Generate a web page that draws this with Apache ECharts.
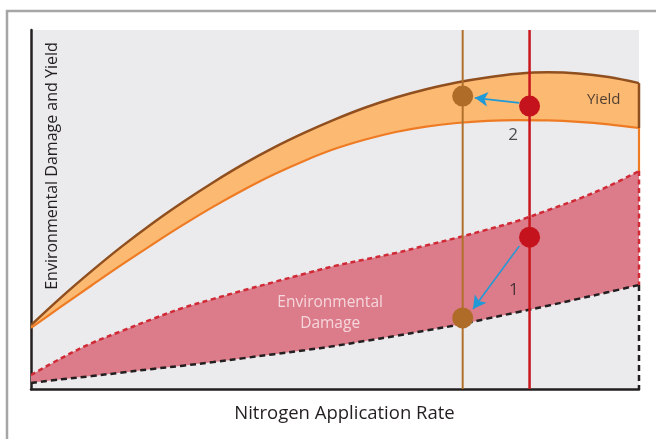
<!DOCTYPE html>
<html>
<head>
<meta charset="utf-8">
<script src="https://cdn.jsdelivr.net/npm/echarts@6/dist/echarts.min.js"></script>
<style>
html,body{margin:0;padding:0;background:#fff;overflow:hidden;}
#chart{width:656px;height:439px;}
</style>
</head>
<body>
<div id="chart"></div>
<script>
// Nitrogen application rate (relative, 0-100)
const rate = [0, 5, 10, 15, 20, 25, 30, 35, 40, 45, 50, 55, 60, 65, 70, 75, 80, 85, 90, 95, 100];
// Yield band
const yieldUpper = [17.8, 25.6, 32.9, 39.8, 46.2, 52.1, 57.6, 62.7, 67.3, 71.4, 75.1, 78.4, 81.2, 83.5, 85.4, 86.8, 87.8, 88.2, 87.9, 86.9, 85.2];
const yieldLower = [17.0, 23.0, 28.9, 34.7, 40.3, 45.7, 50.8, 55.5, 59.8, 63.6, 66.9, 69.5, 71.6, 73.1, 74.1, 74.7, 74.9, 74.8, 74.4, 73.7, 72.7];
// Environmental damage band
const damageUpper = [3.9, 8.6, 12.8, 16.2, 19.5, 22.6, 25.1, 27.5, 29.8, 32.1, 34.3, 36.1, 37.9, 40.0, 42.1, 44.4, 46.8, 49.8, 52.9, 56.5, 60.7];
const damageLower = [1.7, 2.7, 3.6, 4.6, 5.6, 6.5, 7.5, 8.6, 9.7, 10.8, 12.0, 13.4, 14.8, 16.3, 17.8, 19.6, 21.4, 23.2, 25.1, 27.0, 29.0];
// Application-rate markers (optimal / current)
const markerRates = [71, 82];
// Points on the curves
const brownPoints = [[71, 81.6], [71, 19.8]];
const redPoints = [[82, 78.8], [82, 42.3]];
// Arrows (from, to)
const arrows = [
  [[80.3, 79.7], [73.0, 81.1]],
  [[80.3, 39.8], [72.7, 22.3]]
];
// Annotations
const notes = [
  {name: 'Yield', value: [94.2, 80.5], color: '#231f20', size: 15},
  {name: '2', value: [79.3, 70.8], color: '#231f20', size: 17},
  {name: '1', value: [79.4, 27.6], color: '#231f20', size: 17},
  {name: 'Environmental\nDamage', value: [49.2, 21.2], color: '#fbeef1', size: 15.5}
];

const diffs = (a, b) => a.map((v, i) => +(v - b[i]).toFixed(2));
const last = (arr) => arr[arr.length - 1];
const xMax = last(rate);
const FONT = '"Open Sans", "Noto Sans", sans-serif';
const SM = 0.35;

const chart = echarts.init(document.getElementById('chart'), null, {renderer: 'canvas'});
chart.setOption({
  animation: false,
  backgroundColor: '#ffffff',
  grid: {left: 31, right: 17, top: 30, bottom: 50, show: true, backgroundColor: '#ebebee', borderWidth: 0},
  xAxis: [
    {type: 'category', data: rate, boundaryGap: false, show: false},
    {
      type: 'value', min: 0, max: 100, position: 'bottom',
      axisLine: {show: true, onZero: false, lineStyle: {color: '#231f20', width: 2.5}},
      axisTick: {show: false}, axisLabel: {show: false}, splitLine: {show: false},
      name: 'Nitrogen Application Rate', nameLocation: 'middle', nameGap: 15,
      nameTextStyle: {fontFamily: FONT, fontSize: 18.5, color: '#231f20', padding: [0, 0, 0, 19]}
    }
  ],
  yAxis: {
    type: 'value', min: 0, max: 100,
    axisLine: {show: true, onZero: false, lineStyle: {color: '#231f20', width: 2.5}},
    axisTick: {show: false}, axisLabel: {show: false}, splitLine: {show: false}
  },
  graphic: [
    {type: 'polyline', silent: true, shape: {points: [[7, 445], [7, 11], [660, 11]]},
     style: {fill: 'none', stroke: '#a6a6a6', lineWidth: 2.5}},
    {type: 'text', silent: true, x: 52, y: 166, rotation: Math.PI / 2,
     style: {text: 'Environmental Damage and Yield', fontFamily: FONT, fontSize: 16,
             fill: '#231f20', align: 'center', verticalAlign: 'middle'}}
  ],
  series: [
    // Environmental damage band
    {type: 'line', name: 'damageLower', stack: 'env', xAxisIndex: 0, data: damageLower, smooth: SM,
     showSymbol: false, z: 4, lineStyle: {color: '#231f20', width: 2.5, type: [6, 4]}},
    {type: 'line', name: 'damageUpper', stack: 'env', xAxisIndex: 0, data: diffs(damageUpper, damageLower), smooth: SM,
     showSymbol: false, z: 3, lineStyle: {color: '#cf2a36', width: 2.5, type: [5, 3.5]},
     areaStyle: {color: '#dc7b89', opacity: 1}},
    // Yield band
    {type: 'line', name: 'yieldLower', stack: 'yield', xAxisIndex: 0, data: yieldLower, smooth: SM,
     showSymbol: false, z: 4, lineStyle: {color: '#ee7b23', width: 2.2}},
    {type: 'line', name: 'yieldUpper', stack: 'yield', xAxisIndex: 0, data: diffs(yieldUpper, yieldLower), smooth: SM,
     showSymbol: false, z: 3, lineStyle: {color: '#8f4f1e', width: 2.5},
     areaStyle: {color: '#fcb972', opacity: 1}},
    // Right-edge closing segments
    {type: 'line', xAxisIndex: 1, clip: false, showSymbol: false, z: 5, data: [[xMax, last(yieldUpper)], [xMax, last(yieldLower)]],
     lineStyle: {color: '#8f4f1e', width: 2.5}},
    {type: 'line', xAxisIndex: 1, clip: false, showSymbol: false, z: 5, data: [[xMax, last(yieldLower)], [xMax, last(damageUpper)]],
     lineStyle: {color: '#ee7b23', width: 2.2}},
    {type: 'line', xAxisIndex: 1, clip: false, showSymbol: false, z: 5, data: [[xMax, last(damageUpper)], [xMax, last(damageLower)]],
     lineStyle: {color: '#cf2a36', width: 2.5, type: [5, 3.5]}},
    {type: 'line', xAxisIndex: 1, clip: false, showSymbol: false, z: 5, data: [[xMax, last(damageLower)], [xMax, 0]],
     lineStyle: {color: '#231f20', width: 2.5, type: [6, 4]}},
    // Marker verticals
    {type: 'line', xAxisIndex: 1, showSymbol: false, z: 6, data: [[markerRates[0], 0], [markerRates[0], 100]],
     lineStyle: {color: '#b0702c', width: 2}},
    {type: 'line', xAxisIndex: 1, showSymbol: false, z: 6, data: [[markerRates[1], 0], [markerRates[1], 100]],
     lineStyle: {color: '#c8161d', width: 2.5}},
    // Dots
    {type: 'scatter', xAxisIndex: 1, z: 8, symbolSize: 21, data: brownPoints, itemStyle: {color: '#ae6c28', opacity: 1}},
    {type: 'scatter', xAxisIndex: 1, z: 8, symbolSize: 21, data: redPoints, itemStyle: {color: '#c4131c', opacity: 1}},
    // Arrows
    {type: 'line', xAxisIndex: 1, z: 9, data: [], markLine: {
      silent: true, symbol: ['none', 'arrow'], symbolSize: [11, 13],
      label: {show: false},
      lineStyle: {color: '#1f9ad7', width: 1.6, type: 'solid'},
      data: arrows.map(a => [{coord: a[0]}, {coord: a[1]}])
    }},
    // Annotations
    {type: 'scatter', xAxisIndex: 1, z: 10, symbolSize: 1, itemStyle: {color: 'rgba(0,0,0,0)'},
     data: notes.map(n => ({name: n.name, value: n.value,
       label: {show: true, position: 'inside', formatter: '{b}', color: n.color,
               fontSize: n.size, fontFamily: FONT, lineHeight: n.size + 5, align: 'center'}}))}
  ]
});
</script>
</body>
</html>
